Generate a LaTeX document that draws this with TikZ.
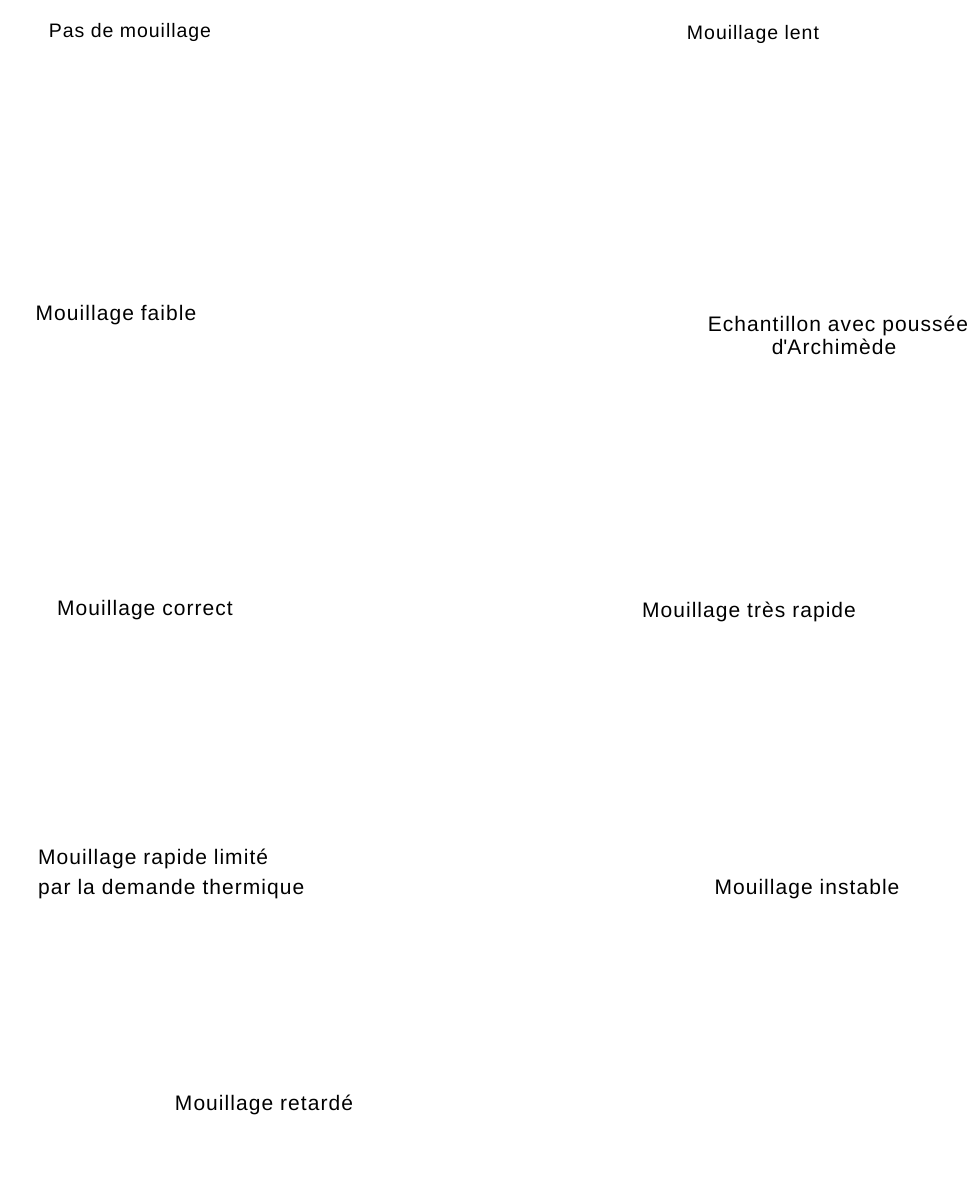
\documentclass[tikz,border=0pt]{standalone}
\usepackage{fontspec}
\setmainfont{Liberation Sans}[LetterSpace=5]
\begin{document}
\begin{tikzpicture}[x=1pt,y=-1pt,
  lbl/.style={inner sep=0pt,font=\fontsize{21}{26}\selectfont,text=black},
  lbls/.style={lbl,font=\fontsize{19.5}{24}\selectfont}]
\useasboundingbox[fill=white] (0,0) rectangle (969,1180);
\node[lbls,anchor=base] (pas) at (130,38) {Pas de mouillage};
\node[lbls,anchor=base] (lent) at (753,40) {Mouillage lent};
\node[lbl,anchor=base] (faible) at (116,320) {Mouillage faible};
\node[lbl,anchor=base] (echA) at (838,331) {Echantillon avec poussée};
\node[lbl,anchor=base] (echB) at (834,354) {d\textquotesingle Archimède};
\node[lbl,anchor=base] (correct) at (145,615) {Mouillage correct};
\node[lbl,anchor=base] (tres) at (749,617) {Mouillage très rapide};
\node[lbl,anchor=base west] (rapA) at (38,864) {Mouillage rapide limité};
\node[lbl,anchor=base west] (rapB) at (38,894) {par la demande thermique};
\node[lbl,anchor=base] (instable) at (807,894) {Mouillage instable};
\node[lbl,anchor=base] (retarde) at (264,1110) {Mouillage retardé};
\end{tikzpicture}
\end{document}
